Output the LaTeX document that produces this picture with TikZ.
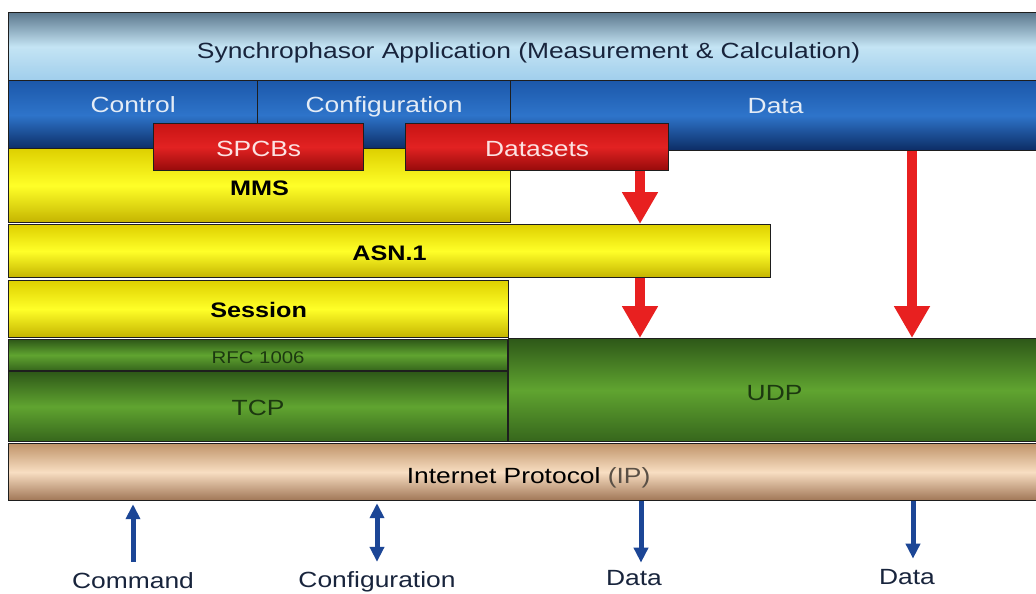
\documentclass[tikz,border=0pt]{standalone}
\usepackage{fontspec}
\setmainfont{Liberation Sans}[FakeStretch=1.2]
\usetikzlibrary{arrows.meta}

\definecolor{edge}{RGB}{30,30,30}
\definecolor{apptop}{RGB}{92,120,142}
\definecolor{appmid}{RGB}{196,228,244}
\definecolor{appbot}{RGB}{160,206,236}
\definecolor{bluetop}{RGB}{28,88,170}
\definecolor{bluemid}{RGB}{46,116,202}
\definecolor{bluebot}{RGB}{12,44,100}
\definecolor{redtop}{RGB}{200,20,20}
\definecolor{redmid}{RGB}{226,34,34}
\definecolor{redbot}{RGB}{150,10,10}
\definecolor{yeltop}{RGB}{222,208,0}
\definecolor{yelmid}{RGB}{255,255,40}
\definecolor{yelbot}{RGB}{196,180,0}
\definecolor{grntop}{RGB}{46,88,24}
\definecolor{grnmid}{RGB}{96,164,48}
\definecolor{grnbot}{RGB}{54,102,28}
\definecolor{tantop}{RGB}{192,148,106}
\definecolor{tanmid}{RGB}{248,222,194}
\definecolor{tanbot}{RGB}{160,118,86}
\definecolor{arrred}{RGB}{232,32,32}
\definecolor{arrblue}{RGB}{28,70,150}
\definecolor{navytext}{RGB}{24,36,60}
\definecolor{lighttext}{RGB}{228,236,246}
\definecolor{pinktext}{RGB}{252,226,226}
\definecolor{greentext}{RGB}{28,56,16}
\definecolor{iptext}{RGB}{90,80,70}

\begin{document}
\begin{tikzpicture}[x=1pt,y=-1pt,
  layer/.style={draw=edge, line width=1.2pt, inner sep=0pt, anchor=north west,
                shading=axis, font=\fontsize{22}{26}\selectfont, text depth=0pt},
  appbar/.style={layer, top color=apptop, bottom color=appbot, middle color=appmid, text=navytext},
  bluebar/.style={layer, top color=bluetop, bottom color=bluebot, middle color=bluemid, text=lighttext},
  redbox/.style={layer, top color=redtop, bottom color=redbot, middle color=redmid, text=pinktext},
  yelbar/.style={layer, top color=yeltop, bottom color=yelbot, middle color=yelmid, text=black,
                 font=\fontsize{21}{25}\selectfont\bfseries},
  grnbar/.style={layer, top color=grntop, bottom color=grnbot, middle color=grnmid, text=greentext},
  tanbar/.style={layer, top color=tantop, bottom color=tanbot, middle color=tanmid, text=black},
  redarrow/.style={draw=arrred, line width=10pt, -{Triangle[width=34pt,length=32pt]}},
  bluearrow/.style={draw=arrblue, line width=5pt},
  bluetip/.style={-{Triangle[width=14pt,length=15pt]}},
  bluetips/.style={{Triangle[width=14pt,length=15pt]}-{Triangle[width=14pt,length=15pt]}},
  caption/.style={text=navytext, inner sep=0pt, anchor=base, font=\fontsize{22}{26}\selectfont}
]
\useasboundingbox (0,0) rectangle (1036,594);
\fill[white] (0,0) rectangle (1036,594);

% application layer
\node[appbar, minimum width=1040pt, minimum height=68pt, text height=24pt] (app) at (8,12)
  {Synchrophasor Application (Measurement \& Calculation)};

% service bar
\node[bluebar, minimum width=249pt, minimum height=69pt, text height=16pt, text depth=21pt] (ctrl) at (8,80) {Control};
\node[bluebar, minimum width=253pt, minimum height=69pt, text height=16pt, text depth=21pt] (cfg) at (257,80) {Configuration};
\node[bluebar, minimum width=530pt, minimum height=70pt, text height=16pt, text depth=21pt] (data) at (510,80) {Data};

% upper stack
\node[yelbar, minimum width=502pt, minimum height=74pt, text height=20pt] (mms) at (8,148) {MMS};

% control blocks and datasets
\node[redbox, minimum width=210pt, minimum height=47pt, text height=19pt] (spcb) at (153,123) {SPCBs};
\node[redbox, minimum width=263pt, minimum height=47pt, text height=19pt] (dsets) at (405,123) {Datasets};

\node[yelbar, minimum width=762pt, minimum height=53pt, text height=19pt] (asn) at (8,224) {ASN.1};
\node[yelbar, minimum width=500pt, minimum height=57pt, text height=17pt] (sess) at (8,280) {Session};

% transport
\node[grnbar, minimum width=499pt, minimum height=31pt, text height=17pt,
      font=\fontsize{17}{20}\selectfont] (rfc) at (8,339) {RFC 1006};
\node[grnbar, minimum width=499pt, minimum height=70pt, text height=18pt] (tcp) at (8,371) {TCP};
\node[grnbar, minimum width=532pt, minimum height=103pt, text height=21pt] (udp) at (508,338) {UDP};

% network
\node[tanbar, minimum width=1040pt, minimum height=57pt, text height=23pt] (ip) at (8,443)
  {Internet Protocol \textcolor{iptext}{(IP)}};

% data paths
\coordinate (xa) at (640,0);
\coordinate (xb) at (912,0);
\draw[redarrow] (dsets.south -| xa) -- (asn.north -| xa);
\draw[redarrow] (asn.south -| xa) -- (udp.north -| xa);
\draw[redarrow] (data.south -| xb) -- (udp.north -| xb);

% external flows
\node[caption] (cmdl) at (133,588) {Command};
\node[caption] (cfgl) at (377,587) {Configuration};
\node[caption] (datal) at (634,585) {Data};
\node[caption] (data2l) at (907,584) {Data};

\draw[bluearrow, bluetip, shorten <=10pt, shorten >=3pt] (cmdl.north) -- (ip.south -| cmdl.north);
\draw[bluearrow, bluetips, shorten <=9pt, shorten >=2pt] (cfgl.north) -- (ip.south -| cfgl.north);
\coordinate (d1) at (641,0);
\coordinate (d2) at (913,0);
\draw[bluearrow, bluetip, shorten >=7pt] (ip.south -| d1) -- (datal.north -| d1);
\draw[bluearrow, bluetip, shorten >=10pt] (ip.south -| d2) -- (data2l.north -| d2);
\end{tikzpicture}
\end{document}
